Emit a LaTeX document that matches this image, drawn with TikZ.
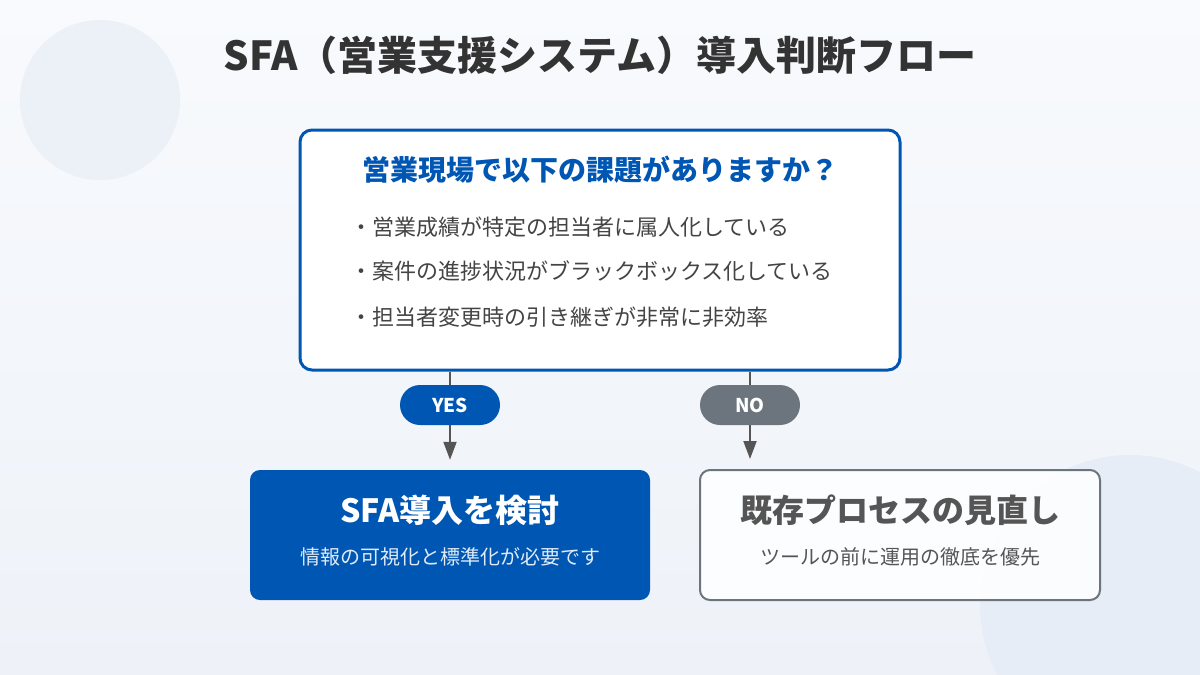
\documentclass[tikz,border=0pt]{standalone}
\usepackage{fontspec}
\setmainfont{Noto Sans CJK JP}
\usepackage{tikz}
\usetikzlibrary{arrows.meta,positioning}
\definecolor{sfablue}{HTML}{0056B3}
\definecolor{nogray}{HTML}{6C757D}
\definecolor{titlegray}{HTML}{333333}
\definecolor{textgray}{HTML}{444444}
\definecolor{revgray}{HTML}{555555}
\definecolor{bgtop}{HTML}{F8FAFD}
\definecolor{bgbot}{HTML}{EEF2F8}
\definecolor{deco}{HTML}{E7EDF6}
\newcommand{\fs}[1]{\fontsize{#1}{#1}\selectfont}

\begin{document}
\begin{tikzpicture}
[x=1pt,y=-1pt,
box/.style={rounded corners=12pt,minimum width=600pt,minimum height=240pt,draw=sfablue,line width=3pt,fill=white},
pill/.style={rounded corners=20pt,minimum width=100pt,minimum height=40pt,inner sep=0pt,text=white,font=\fs{19}\bfseries},
res/.style={rounded corners=10pt,minimum width=400pt,minimum height=130pt,inner sep=0pt},
item/.style={anchor=west,inner sep=0pt,text=textgray,font=\fs{22}},
link/.style={draw=revgray,line width=2pt},
arr/.style={link,-{Triangle[length=18pt,width=13pt]},shorten >=10pt}]
\useasboundingbox (0,0) rectangle (1200,675);
\fill[top color=bgtop,bottom color=bgbot] (0,0) rectangle (1200,675);
\fill[deco!70!bgtop] (100,100) circle (80);
\fill[deco] (1130,605) circle (150);

\node[text=titlegray,font=\fs{40}\bfseries] (title) at (600,55) {SFA（営業支援システム）導入判断フロー};

\node[box] (q) at (600,250) {};
\node[text=sfablue,font=\fs{28}\bfseries] (qh) at (600,170) {営業現場で以下の課題がありますか？};
\node[item] (q1) at (350,227) {・営業成績が特定の担当者に属人化している};
\node[item] (q2) at (350,271) {・案件の進捗状況がブラックボックス化している};
\node[item] (q3) at (350,317) {・担当者変更時の引き継ぎが非常に非効率};

\node[pill,fill=sfablue] (yes) at (450,405) {YES};
\node[pill,fill=nogray] (no) at (750,405) {NO};

\node[res,fill=sfablue] (sfa) at (450,535) {};
\node[text=white,font=\fs{32}\bfseries] (sfat) at (450,510) {SFA導入を検討};
\node[text=white!88!sfablue,font=\fs{20}] (sfas) at (450,557) {情報の可視化と標準化が必要です};

\node[res,fill=white,fill opacity=0.85,draw=nogray,draw opacity=1,line width=2pt] (rev) at (900,535) {};
\node[text=revgray,font=\fs{32}\bfseries] (revt) at (900,510) {既存プロセスの見直し};
\node[text=revgray,font=\fs{20}] (revs) at (900,557) {ツールの前に運用の徹底を優先};

\draw [link] (yes.north |- q.south) -- (yes.north);
\draw [arr] (yes.south) -- (sfa.north);
\draw [link] (no.north |- q.south) -- (no.north);
\draw [arr] (no.south) -- (rev.north -| no);
\end{tikzpicture}
\end{document}
